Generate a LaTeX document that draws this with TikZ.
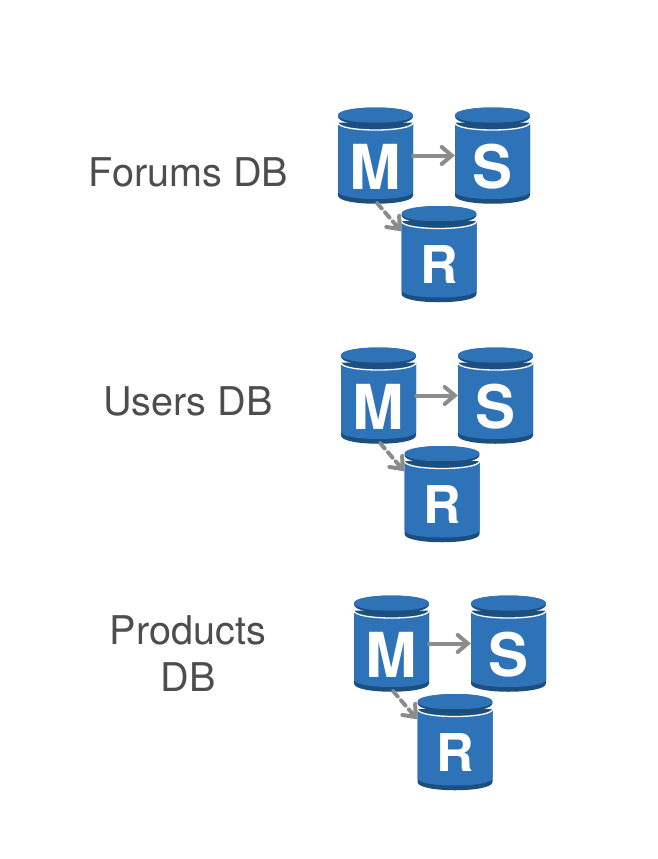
\documentclass[tikz,border=0pt]{standalone}
\usepackage{fontspec}
\setmainfont{TeX Gyre Heros}
\usetikzlibrary{arrows.meta}
\definecolor{dbblue}{HTML}{2E73B8}
\definecolor{dbdark}{HTML}{1D4F7E}
\definecolor{dblabel}{HTML}{4D4D4D}
\definecolor{dbarrow}{HTML}{8C8C8C}
\tikzset{
  dbbox/.style={minimum width=75pt,minimum height=95pt,inner sep=0pt},
  dbletter/.style={text=white,inner sep=0pt,font=\bfseries\fontsize{#1}{#1}\selectfont},
  dblabel/.style={text=dblabel,align=center,inner sep=0pt,font=\fontsize{39.6}{47}\selectfont},
  link/.style={draw=dbarrow,line width=4pt,line cap=round,-{Straight Barb[length=10pt,width=17pt,line cap=round]}}
}
% one cylinder: name, letter, letter size, centre x, centre y
\newcommand{\dbicon}[5]{
\begin{scope}[shift={(#4,#5)}]
  \fill[dbdark] (-37.5,-39) .. controls (-37.5,-51) and (37.5,-51) .. (37.5,-39)
    .. controls (37.5,-27) and (-37.5,-27) .. (-37.5,-39) -- cycle;
  \fill[dbblue] (-37.5,-40.5) .. controls (-37.5,-50.5) and (37.5,-50.5) .. (37.5,-40.5)
    .. controls (37.5,-30) and (-37.5,-30) .. (-37.5,-40.5) -- cycle;
  \fill[dbdark] (-37.5,-33) -- (37.5,-33) -- (37.5,40)
    .. controls (37.5,51) and (-37.5,51) .. (-37.5,40) -- cycle;
  \fill[dbblue] (-37.5,-33) .. controls (-37.5,-23) and (37.5,-23) .. (37.5,-33) -- (37.5,36)
    .. controls (37.5,46) and (-37.5,46) .. (-37.5,36) -- cycle;
  \draw[white,line width=1.3pt] (-37.5,-33) .. controls (-37.5,-23) and (37.5,-23) .. (37.5,-33);
  \node[dbbox] (#1) at (0,0) {};
  \node[dbletter=#3] (#1-letter) at (0,11) {#2};
\end{scope}
}
% master, slave and replica
\newcommand{\dbgroup}[3]{
\begin{scope}[shift={(#2,#3)}]
  \dbicon{m#1}{M}{62}{375.5}{155.5}
  \dbicon{s#1}{S}{60}{492.5}{155.5}
  \dbicon{r#1}{R}{52}{439}{254}
\end{scope}
\draw[link] (m#1.east) -- (s#1.west);
\draw[link,dash pattern=on 7pt off 5pt] (m#1.272) -- (r#1.149);
}

\begin{document}
\begin{tikzpicture}[x=1pt,y=-1pt]
\useasboundingbox (0,0) rectangle (658,859);
\node[dblabel] (forums) at (188.5,172) {Forums DB};
\node[dblabel] (users) at (188,401) {Users DB};
\node[dblabel] (products) at (188,654) {Products\\DB};
\dbgroup{1}{0}{0}
\dbgroup{2}{3}{240}
\dbgroup{3}{16}{488}
\end{tikzpicture}
\end{document}
